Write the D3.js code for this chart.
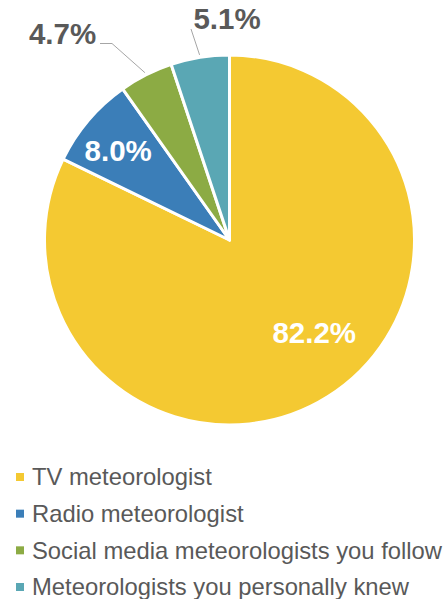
<!DOCTYPE html>
<html>
<head>
<meta charset="utf-8">
<script src="https://cdn.jsdelivr.net/npm/d3@7"></script>
<style>
  html, body { margin: 0; padding: 0; background: #fff; }
  svg { display: block; font-family: "Liberation Sans", Arial, sans-serif; }
</style>
</head>
<body>
<svg id="chart" width="444" height="599"></svg>
<script>
const categories = [
  'TV meteorologist',
  'Radio meteorologist',
  'Social media meteorologists you follow',
  'Meteorologists you personally knew'
];
const values = [82.2, 8.0, 4.7, 5.1];
const colors = ['#F4C932', '#3B7EB8', '#8CAB44', '#5AA7B4'];

const width = 444, height = 599;
const cx = 229.5, cy = 240, radius = 185;

const svg = d3.select('#chart');
const g = svg.append('g').attr('transform', `translate(${cx},${cy})`);

const pie = d3.pie().sort(null).value(d => d.value);
const arcs = pie(values.map((v, i) => ({ name: categories[i], value: v, color: colors[i] })));

const arc = d3.arc().innerRadius(0).outerRadius(radius);

g.selectAll('path.slice')
  .data(arcs)
  .enter().append('path')
  .attr('class', 'slice')
  .attr('d', arc)
  .attr('fill', d => d.data.color)
  .attr('stroke', '#fff')
  .attr('stroke-width', 3)
  .attr('stroke-linejoin', 'round');

const polar = (angle, r) => [r * Math.sin(angle), -r * Math.cos(angle)];
const midAngle = d => (d.startAngle + d.endAngle) / 2;
const fmt = v => v.toFixed(1) + '%';

// inside labels (big slices), nudged the way the original placed them
const inside = [
  { i: 0, angle: -0.18, r: 0.68 },
  { i: 1, angle: -0.03, r: 0.77 }
];
inside.forEach(o => {
  const d = arcs[o.i];
  const [x, y] = polar(midAngle(d) + o.angle, radius * o.r);
  g.append('text')
    .attr('x', x).attr('y', y)
    .attr('dy', '0.35em')
    .attr('text-anchor', 'middle')
    .attr('font-size', 29.5)
    .attr('font-weight', 'bold')
    .attr('fill', '#fff')
    .text(fmt(d.data.value));
});

// outside labels with leader lines
const outside = [
  { i: 2, elbow: [-117.5, -196.5], end: [-129.5, -196.5], label: [-167, -196.5] },
  { i: 3, elbow: [-38.5, -211], end: null, label: [-2.5, -211] }
];
outside.forEach(o => {
  const d = arcs[o.i];
  const start = polar(midAngle(d), radius + 2.5);
  const pts = [start, o.elbow];
  if (o.end) pts.push(o.end);
  g.append('path')
    .attr('d', d3.line()(pts))
    .attr('fill', 'none')
    .attr('stroke', '#A6A6A6')
    .attr('stroke-width', 1);
  g.append('text')
    .attr('x', o.label[0]).attr('y', o.label[1])
    .attr('text-anchor', 'middle')
    .attr('font-size', 29.5)
    .attr('font-weight', 'bold')
    .attr('fill', '#595959')
    .text(fmt(d.data.value));
});

// legend
const legendY = d3.scalePoint().domain(categories).range([477, 587]);
const legend = svg.append('g');
const rows = legend.selectAll('g.row')
  .data(arcs)
  .enter().append('g')
  .attr('class', 'row')
  .attr('transform', d => `translate(0,${legendY(d.data.name)})`);

rows.append('rect')
  .attr('x', 16).attr('y', -4)
  .attr('width', 8).attr('height', 8)
  .attr('fill', d => d.data.color);

rows.append('text')
  .attr('x', 32).attr('y', 0)
  .attr('dy', '0.35em')
  .attr('font-size', 23.8)
  .attr('fill', '#595959')
  .text(d => d.data.name);
</script>
</body>
</html>
